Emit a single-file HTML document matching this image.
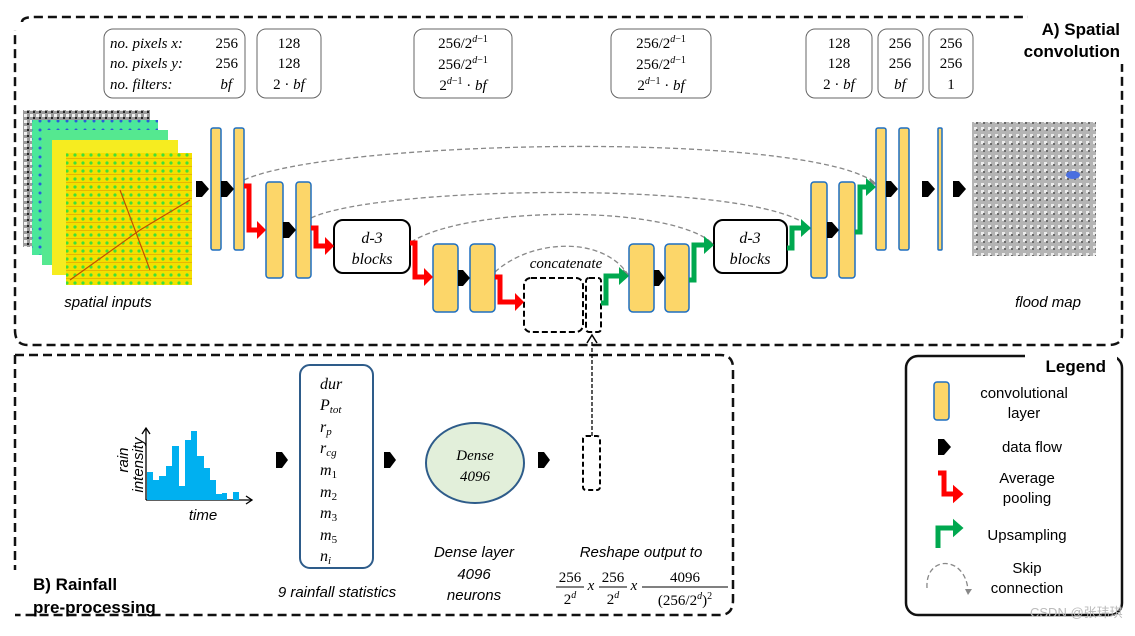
<!DOCTYPE html>
<html><head><meta charset="utf-8"><style>
body{margin:0;background:#fff}
svg text{font-family:"Liberation Sans",sans-serif}
svg text.s,svg .s text,svg text.m,svg .m text{font-family:"Liberation Serif",serif}
svg text.s,svg .s text{font-style:italic}
</style></head><body>
<svg width="1135" height="631" viewBox="0 0 1135 631" xmlns="http://www.w3.org/2000/svg">
<defs>
<pattern id="pg" width="8" height="8" patternUnits="userSpaceOnUse"><rect width="8" height="8" fill="#f3e000"/><circle cx="3" cy="3" r="1.6" fill="#3ee03a"/><rect x="0" y="6" width="8" height="1" fill="#e08a00" opacity=".5"/></pattern>
<pattern id="pf" width="7" height="7" patternUnits="userSpaceOnUse"><rect width="7" height="7" fill="#b4b4b4"/><rect x="1" y="1" width="3" height="3" fill="#ececec"/><rect x="3" y="3" width="2" height="2" fill="#6a6a6a"/></pattern>
<pattern id="pb" width="6" height="6" patternUnits="userSpaceOnUse"><rect width="6" height="6" fill="#9a9a9a"/><rect x="0" y="0" width="3" height="3" fill="#f0f0f0"/><rect x="3" y="3" width="2" height="2" fill="#222"/></pattern>
<pattern id="pc" width="9" height="9" patternUnits="userSpaceOnUse"><rect width="9" height="9" fill="#4be89a"/><circle cx="4" cy="4" r="1.5" fill="#2c5cd8"/></pattern>
</defs>
<!-- A box -->
<path d="M22,22 Q22,17 35,17 H1122 V335 Q1122,345 1108,345 H28 Q15,345 15,330 V30" fill="none" stroke="#111" stroke-width="2.5" stroke-dasharray="9,5"/>
<rect x="1028" y="14" width="100" height="50" fill="#fff"/>
<text x="1120" y="35" font-size="17" font-weight="bold" text-anchor="end">A) Spatial</text>
<text x="1120" y="57" font-size="17" font-weight="bold" text-anchor="end">convolution</text>
<!-- B box -->
<path d="M15,355 H720 Q733,355 733,368 V600 Q733,615 720,615 H15" fill="none" stroke="#111" stroke-width="2.5" stroke-dasharray="9,5"/>
<path d="M15,355 V570" fill="none" stroke="#111" stroke-width="2.5" stroke-dasharray="9,5"/>
<text x="33" y="590" font-size="17" font-weight="bold">B) Rainfall</text>
<text x="33" y="613" font-size="17" font-weight="bold">pre-processing</text>
<!-- Legend -->
<rect x="906" y="356" width="216" height="259" rx="12" fill="none" stroke="#111" stroke-width="2.5"/>
<rect x="1025" y="350" width="92" height="26" fill="#fff"/>
<text x="1106" y="372" font-size="17" font-weight="bold" text-anchor="end">Legend</text>
<rect x="934" y="382" width="15" height="38" rx="3" fill="#fcd669" stroke="#1f6fc0" stroke-width="1.5"/>
<text x="1024" y="398" font-size="15" text-anchor="middle">convolutional</text>
<text x="1024" y="418" font-size="15" text-anchor="middle">layer</text>
<polygon points="938,439 944,439 951,447 944,455 938,455" fill="#000"/>
<text x="1032" y="452" font-size="15" text-anchor="middle">data flow</text>
<polyline points="938,473 944,473 944,494 955,494" fill="none" stroke="#f00" stroke-width="5"/>
<polygon points="954,487 962,494 954,501" fill="#f00" stroke="#f00" stroke-width="2"/>
<text x="1027" y="483" font-size="15" text-anchor="middle">Average</text>
<text x="1027" y="503" font-size="15" text-anchor="middle">pooling</text>
<polyline points="938,548 938,528 955,528" fill="none" stroke="#00a84f" stroke-width="5"/>
<polygon points="954,521 962,528 954,535" fill="#00a84f" stroke="#00a84f" stroke-width="2"/>
<text x="1027" y="540" font-size="15" text-anchor="middle">Upsampling</text>
<path d="M927,588 C925,555 965,555 968,590" fill="none" stroke="#888" stroke-width="1.3" stroke-dasharray="5,3"/>
<polygon points="965,589 972,589 968,595" fill="#888"/>
<text x="1027" y="573" font-size="15" text-anchor="middle">Skip</text>
<text x="1027" y="593" font-size="15" text-anchor="middle">connection</text>
<text x="1030" y="617" font-size="13" fill="#bbb">CSDN @张玮琪</text>

<!-- info boxes -->
<g fill="none" stroke="#666" stroke-width="1">
<rect x="104" y="29" width="141" height="69" rx="9"/>
<rect x="257" y="29" width="64" height="69" rx="9"/>
<rect x="414" y="29" width="98" height="69" rx="9"/>
<rect x="611" y="29" width="100" height="69" rx="9"/>
<rect x="806" y="29" width="66" height="69" rx="9"/>
<rect x="878" y="29" width="45" height="69" rx="9"/>
<rect x="929" y="29" width="44" height="69" rx="9"/>
</g>
<g font-size="15">
<text class="s" x="110" y="48">no. pixels x:</text><text class="m" x="238" y="48" text-anchor="end">256</text>
<text class="s" x="110" y="68">no. pixels y:</text><text class="m" x="238" y="68" text-anchor="end">256</text>
<text class="s" x="110" y="89">no. filters:</text><text class="s" x="232" y="89" text-anchor="end">bf</text>
<text class="m" x="289" y="48" text-anchor="middle">128</text><text class="m" x="289" y="68" text-anchor="middle">128</text><text class="m" x="289" y="89" text-anchor="middle">2 · <tspan font-style="italic">bf</tspan></text>
<text class="m" x="463" y="48" text-anchor="middle">256/2<tspan font-size="10" dy="-6" font-style="italic">d</tspan><tspan font-size="10">−1</tspan></text>
<text class="m" x="463" y="69" text-anchor="middle">256/2<tspan font-size="10" dy="-6" font-style="italic">d</tspan><tspan font-size="10">−1</tspan></text>
<text class="m" x="463" y="90" text-anchor="middle">2<tspan font-size="10" dy="-6" font-style="italic">d</tspan><tspan font-size="10">−1</tspan><tspan dy="6"> · </tspan><tspan font-style="italic">bf</tspan></text>
<text class="m" x="661" y="48" text-anchor="middle">256/2<tspan font-size="10" dy="-6" font-style="italic">d</tspan><tspan font-size="10">−1</tspan></text>
<text class="m" x="661" y="69" text-anchor="middle">256/2<tspan font-size="10" dy="-6" font-style="italic">d</tspan><tspan font-size="10">−1</tspan></text>
<text class="m" x="661" y="90" text-anchor="middle">2<tspan font-size="10" dy="-6" font-style="italic">d</tspan><tspan font-size="10">−1</tspan><tspan dy="6"> · </tspan><tspan font-style="italic">bf</tspan></text>
<text class="m" x="839" y="48" text-anchor="middle">128</text><text class="m" x="839" y="68" text-anchor="middle">128</text><text class="m" x="839" y="89" text-anchor="middle">2 · <tspan font-style="italic">bf</tspan></text>
<text class="m" x="900" y="48" text-anchor="middle">256</text><text class="m" x="900" y="68" text-anchor="middle">256</text><text class="s" x="900" y="89" text-anchor="middle">bf</text>
<text class="m" x="951" y="48" text-anchor="middle">256</text><text class="m" x="951" y="68" text-anchor="middle">256</text><text class="m" x="951" y="89" text-anchor="middle">1</text>
</g>

<!-- input images -->
<rect x="23" y="110" width="127" height="137" fill="url(#pb)"/>
<rect x="32" y="120" width="126" height="135" fill="url(#pc)"/>
<rect x="42" y="130" width="126" height="135" fill="#55e890"/>
<rect x="52" y="140" width="126" height="135" fill="#f6ec20"/>
<rect x="66" y="153" width="126" height="132" fill="url(#pg)"/>
<path d="M70,280 L140,230 L190,200 M120,190 L150,270" stroke="#c05000" stroke-width="1.2" fill="none"/>
<text x="108" y="307" font-size="15" font-style="italic" text-anchor="middle">spatial inputs</text>
<!-- flood map -->
<rect x="972" y="122" width="124" height="134" fill="url(#pf)"/>
<ellipse cx="1073" cy="175" rx="7" ry="4" fill="#4a6fe0"/>
<text x="1048" y="307" font-size="15" font-style="italic" text-anchor="middle">flood map</text>

<!-- skip connections -->
<g fill="none" stroke="#888" stroke-width="1.3" stroke-dasharray="5,3">
<path d="M244,180 C330,140 800,130 874,182"/>
<path d="M311,218 C380,185 760,180 809,227"/>
<path d="M411,242 C470,205 670,205 712,243"/>
<path d="M495,272 C530,240 600,235 627,273"/>
</g>
<g fill="#888">
<polygon points="870,178 877,184 869,186"/>
<polygon points="805,223 812,229 804,231"/>
<polygon points="708,239 715,245 707,247"/>
<polygon points="623,269 630,275 622,277"/>
</g>

<!-- conv layers -->
<g fill="#fcd669" stroke="#1f6fc0" stroke-width="1.5">
<rect x="211" y="128" width="10" height="122" rx="2"/>
<rect x="234" y="128" width="10" height="122" rx="2"/>
<rect x="266" y="182" width="17" height="96" rx="3"/>
<rect x="296" y="182" width="15" height="96" rx="3"/>
<rect x="433" y="244" width="25" height="68" rx="4"/>
<rect x="470" y="244" width="25" height="68" rx="4"/>
<rect x="629" y="244" width="25" height="68" rx="4"/>
<rect x="665" y="244" width="24" height="68" rx="4"/>
<rect x="811" y="182" width="16" height="96" rx="3"/>
<rect x="839" y="182" width="16" height="96" rx="3"/>
<rect x="876" y="128" width="10" height="122" rx="2"/>
<rect x="899" y="128" width="10" height="122" rx="2"/>
<rect x="938" y="128" width="4" height="122" rx="1"/>
</g>
<!-- d-3 blocks -->
<rect x="334" y="220" width="76" height="53" rx="9" fill="#fff" stroke="#000" stroke-width="2"/>
<text class="s" x="372" y="243" font-size="16" text-anchor="middle">d-3</text>
<text class="s" x="372" y="264" font-size="16" text-anchor="middle">blocks</text>
<rect x="714" y="220" width="73" height="53" rx="9" fill="#fff" stroke="#000" stroke-width="2"/>
<text class="s" x="750" y="243" font-size="16" text-anchor="middle">d-3</text>
<text class="s" x="750" y="264" font-size="16" text-anchor="middle">blocks</text>
<!-- concat -->
<rect x="524" y="278" width="59" height="54" rx="7" fill="none" stroke="#000" stroke-width="2" stroke-dasharray="6,3"/>
<rect x="586" y="278" width="15" height="54" rx="3" fill="none" stroke="#000" stroke-width="2" stroke-dasharray="6,3"/>
<text class="s" x="566" y="268" font-size="15" text-anchor="middle">concatenate</text>

<!-- black arrows -->
<g fill="#000">
<polygon points="196,181 202,181 209,189 202,197 196,197"/>
<polygon points="221,181 227,181 234,189 227,197 221,197"/>
<polygon points="283,222 289,222 296,230 289,238 283,238"/>
<polygon points="458,270 463,270 470,278 463,286 458,286"/>
<polygon points="654,270 659,270 665,278 659,286 654,286"/>
<polygon points="827,222 832,222 839,230 832,238 827,238"/>
<polygon points="886,181 891,181 898,189 891,197 886,197"/>
<polygon points="922,181 928,181 935,189 928,197 922,197"/>
<polygon points="953,181 959,181 966,189 959,197 953,197"/>
</g>
<!-- pooling -->
<g fill="none" stroke="#f00" stroke-width="5">
<polyline points="244,186 249,186 249,230 258,230"/>
<polyline points="311,228 316,228 316,246 326,246"/>
<polyline points="410,243 415,243 415,277 425,277"/>
<polyline points="495,277 500,277 500,302 516,302"/>
</g>
<g fill="#f00">
<polygon points="257,221 266,230 257,239"/>
<polygon points="325,237 334,246 325,255"/>
<polygon points="424,268 433,277 424,286"/>
<polygon points="515,293 524,302 515,311"/>
</g>
<!-- upsampling -->
<g fill="none" stroke="#00a84f" stroke-width="5">
<polyline points="601,303 606,303 606,276 620,276"/>
<polyline points="689,280 694,280 694,245 705,245"/>
<polyline points="787,248 792,248 792,228 802,228"/>
<polyline points="855,232 860,232 860,187 867,187"/>
</g>
<g fill="#00a84f">
<polygon points="619,267 629,276 619,285"/>
<polygon points="704,236 714,245 704,254"/>
<polygon points="801,219 811,228 801,237"/>
<polygon points="866,178 876,187 866,196"/>
</g>

<!-- B section -->
<line x1="146" y1="500" x2="146" y2="428" stroke="#000" stroke-width="1.3"/>
<polyline points="142,434 146,428 150,434" fill="none" stroke="#000" stroke-width="1.3"/>
<line x1="146" y1="500" x2="252" y2="500" stroke="#000" stroke-width="1.3"/>
<polyline points="246,496 252,500 246,504" fill="none" stroke="#000" stroke-width="1.3"/>
<g fill="#00b0f0">
<rect x="147" y="472" width="6" height="28"/><rect x="153" y="480" width="6" height="20"/>
<rect x="159" y="476" width="7" height="24"/><rect x="166" y="466" width="6" height="34"/>
<rect x="172" y="446" width="7" height="54"/><rect x="179" y="486" width="6" height="14"/>
<rect x="185" y="440" width="6" height="60"/><rect x="191" y="431" width="6" height="69"/>
<rect x="197" y="456" width="7" height="44"/><rect x="204" y="468" width="6" height="32"/>
<rect x="210" y="480" width="6" height="20"/><rect x="216" y="494" width="6" height="6"/>
<rect x="222" y="493" width="5" height="7"/><rect x="233" y="492" width="6" height="8"/>
</g>
<text font-size="15" font-style="italic" text-anchor="middle" transform="translate(128,460) rotate(-90)">rain</text>
<text font-size="15" font-style="italic" text-anchor="middle" transform="translate(143,465) rotate(-90)">intensity</text>
<text x="203" y="520" font-size="15" font-style="italic" text-anchor="middle">time</text>
<polygon points="276,452 282,452 288,460 282,468 276,468" fill="#000"/>
<rect x="300" y="365" width="73" height="203" rx="10" fill="none" stroke="#2e5c8a" stroke-width="2"/>
<g class="s" font-size="16">
<text x="320" y="389">dur</text>
<text x="320" y="410">P<tspan font-size="11" dy="3">tot</tspan></text>
<text x="320" y="432">r<tspan font-size="11" dy="3">p</tspan></text>
<text x="320" y="453">r<tspan font-size="11" dy="3">cg</tspan></text>
<text x="320" y="475">m<tspan font-size="11" dy="3" font-style="normal">1</tspan></text>
<text x="320" y="497">m<tspan font-size="11" dy="3" font-style="normal">2</tspan></text>
<text x="320" y="518">m<tspan font-size="11" dy="3" font-style="normal">3</tspan></text>
<text x="320" y="540">m<tspan font-size="11" dy="3" font-style="normal">5</tspan></text>
<text x="320" y="561">n<tspan font-size="11" dy="3">i</tspan></text>
</g>
<text x="337" y="597" font-size="15" font-style="italic" text-anchor="middle">9 rainfall statistics</text>
<polygon points="384,452 390,452 396,460 390,468 384,468" fill="#000"/>
<ellipse cx="475" cy="463" rx="49" ry="40" fill="#e2efda" stroke="#2e5c8a" stroke-width="2"/>
<text class="s" x="475" y="460" font-size="15" text-anchor="middle">Dense</text>
<text class="s" x="475" y="481" font-size="15" text-anchor="middle">4096</text>
<polygon points="538,452 544,452 550,460 544,468 538,468" fill="#000"/>
<rect x="583" y="436" width="17" height="54" rx="3" fill="none" stroke="#000" stroke-width="2" stroke-dasharray="5,3"/>
<line x1="592" y1="436" x2="592" y2="340" stroke="#000" stroke-width="1.3" stroke-dasharray="4,2"/>
<polyline points="587,343 592,335 597,343" fill="none" stroke="#000" stroke-width="1.5"/>
<text x="474" y="557" font-size="15" font-style="italic" text-anchor="middle">Dense layer</text>
<text x="474" y="579" font-size="15" font-style="italic" text-anchor="middle">4096</text>
<text x="474" y="600" font-size="15" font-style="italic" text-anchor="middle">neurons</text>
<text x="641" y="557" font-size="15" font-style="italic" text-anchor="middle">Reshape output to</text>
<g class="m" font-size="15" text-anchor="middle">
<text x="570" y="582">256</text><line x1="556" y1="587" x2="584" y2="587" stroke="#000"/><text x="570" y="604">2<tspan font-size="10" dy="-6" font-style="italic">d</tspan></text>
<text x="591" y="590" font-style="italic">x</text>
<text x="613" y="582">256</text><line x1="599" y1="587" x2="627" y2="587" stroke="#000"/><text x="613" y="604">2<tspan font-size="10" dy="-6" font-style="italic">d</tspan></text>
<text x="634" y="590" font-style="italic">x</text>
<text x="685" y="582">4096</text><line x1="642" y1="587" x2="728" y2="587" stroke="#000"/><text x="685" y="605">(256/2<tspan font-size="10" dy="-6" font-style="italic">d</tspan><tspan dy="6">)</tspan><tspan font-size="10" dy="-6">2</tspan></text>
</g>
</svg>
</body></html>
